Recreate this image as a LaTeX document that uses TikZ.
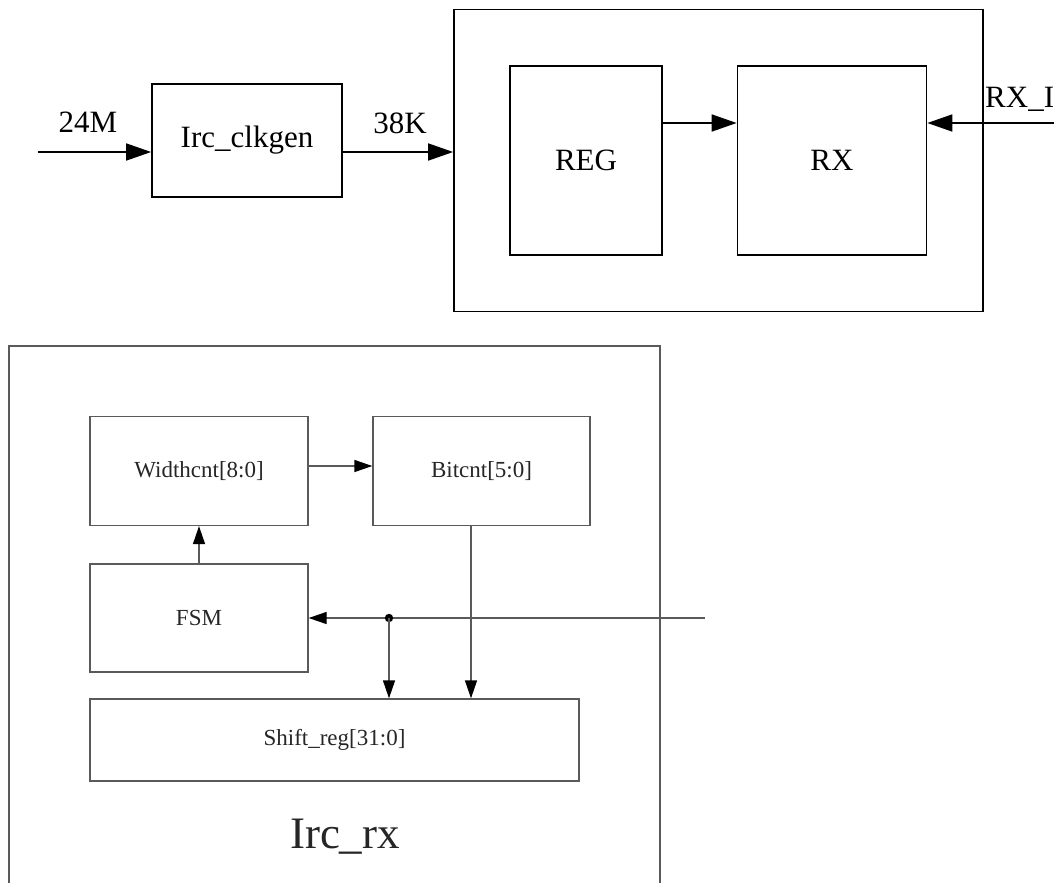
\documentclass[tikz,border=0pt]{standalone}
\usepackage{fontspec}
\setmainfont{Liberation Serif}
\usetikzlibrary{arrows.meta}
\definecolor{gline}{HTML}{5A5A5A}
\definecolor{gtext}{HTML}{262626}
\begin{document}
\begin{tikzpicture}[x=1pt,y=-1pt,
  blk/.style={draw=black,line width=1.7pt,rectangle,inner sep=0pt,font=\fontsize{31}{31}\selectfont},
  sblk/.style={draw=gline,line width=1.3pt,rectangle,inner sep=0pt,text=gtext,font=\fontsize{23}{23}\selectfont},
  arr/.style={line width=1.7pt,-{Triangle[length=25pt,width=17pt]}},
  sarr/.style={draw=gline,line width=1.3pt,-{Triangle[length=18pt,width=12pt,color=black]}},
  lbl/.style={font=\fontsize{31}{31}\selectfont,inner sep=0pt,anchor=base}
]
\useasboundingbox (0,0) rectangle (1054,883);

% ---- top part ----
\node[blk,minimum width=190pt,minimum height=113pt] (clk) at (247,140.5) {Irc\_clkgen};
\node[blk,minimum width=529pt,minimum height=302pt] (top) at (718.5,160.5) {};
\node[blk,minimum width=152pt,minimum height=189pt] (reg) at (586,160.5) {REG};
\node[blk,minimum width=189pt,minimum height=189pt] (rx) at (832,160.5) {RX};

\coordinate (in24) at (38,152);
\draw[arr] (in24) -- (in24 -| clk.west);
\node[lbl] (l24) at (88,132) {24M};
\draw[arr] (in24 -| clk.east) -- (in24 -| top.west);
\node[lbl] (l38) at (400,133) {38K};

\coordinate (r1) at (0,123);
\draw[arr] (r1 -| reg.east) -- (r1 -| rx.west);
\coordinate (rxin) at (1054,123);
\draw[arr] (rxin) -- (rxin -| rx.east);
\node[lbl,anchor=base west] (lrx) at (985,107) {RX\_I};

% ---- bottom part ----
\draw[draw=gline,line width=1.3pt] (9,883) -- (9,346) -- (660,346) -- (660,883);
\node[font=\fontsize{45}{45}\selectfont,text=gtext,anchor=base,inner sep=0pt] (rxname) at (345,848) {Irc\_rx};

\node[sblk,minimum width=218pt,minimum height=109pt] (wc) at (199,471) {Widthcnt[8:0]};
\node[sblk,minimum width=217pt,minimum height=109pt] (bc) at (481.5,471) {Bitcnt[5:0]};
\node[sblk,minimum width=218pt,minimum height=108pt] (fsm) at (199,618) {FSM};
\node[sblk,minimum width=489pt,minimum height=82pt] (sh) at (334.5,740) {Shift\_reg[31:0]};

\coordinate (w1) at (0,466);
\draw[sarr] (w1 -| wc.east) -- (w1 -| bc.west);
\draw[sarr] (fsm.north) -- (wc.south);
\coordinate (sin) at (705,618);
\coordinate (dot) at (389,618);
\draw[sarr] (sin) -- (fsm.east);
\fill (dot) circle (4.2pt);
\draw[sarr] (dot) -- (dot |- sh.north);
\coordinate (b1) at (471,0);
\draw[sarr] (b1 |- bc.south) -- (b1 |- sh.north);
\end{tikzpicture}
\end{document}
